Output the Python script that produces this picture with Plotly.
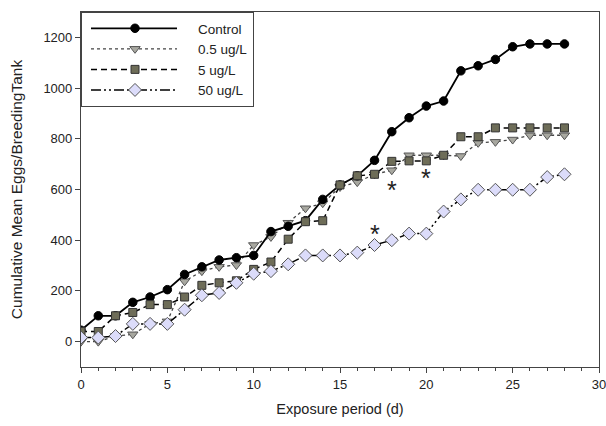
import plotly.graph_objects as go

days = list(range(0, 29))
control = [45, 102, 102, 155, 176, 205, 265, 295, 322, 331, 340, 434, 455, 477, 561, 618, 654, 715,
           828, 883, 929, 949, 1068, 1088, 1113, 1163, 1174, 1174, 1174]
ug05 = [0, 0, 22, 29, 70, 80, 238, 278, 295, 302, 381, 413, 469, 526, 546, 610, 629, 660,
        676, 735, 735, 735, 732, 784, 788, 797, 814, 814, 814]
ug5 = [40, 40, 102, 115, 146, 146, 176, 222, 232, 240, 285, 314, 404, 473, 477, 618, 654, 660,
       711, 713, 713, 735, 808, 808, 843, 843, 843, 843, 843]
ug50 = [16, 16, 22, 70, 70, 70, 126, 183, 192, 232, 268, 278, 305, 340, 340, 340, 351, 381,
        400, 426, 426, 513, 561, 599, 599, 599, 599, 649, 660]

star_x = [17, 18, 20]
star_y = [425, 600, 647]

FONT = "Liberation Sans, Arial, sans-serif"

fig = go.Figure()

fig.add_trace(go.Scatter(
    x=days, y=ug05, name="0.5 ug/L", mode="lines+markers", legendrank=2,
    line=dict(color="#444444", width=1.3, dash="dot"),
    marker=dict(symbol="triangle-down", size=9, color="#a8a8a0", line=dict(color="#555555", width=1))))
fig.add_trace(go.Scatter(
    x=days, y=control, name="Control", mode="lines+markers", legendrank=1,
    line=dict(color="black", width=1.8),
    marker=dict(symbol="circle", size=8.5, color="black", line=dict(color="black", width=1))))
fig.add_trace(go.Scatter(
    x=days, y=ug5, name="5 ug/L", mode="lines+markers", legendrank=3,
    line=dict(color="black", width=1.5, dash="6px,4px"),
    marker=dict(symbol="square", size=8, color="#6e6d58", line=dict(color="#333333", width=1))))
fig.add_trace(go.Scatter(
    x=days, y=ug50, name="50 ug/L", mode="lines+markers", legendrank=4,
    line=dict(color="black", width=1.5, dash="10px,3px,2px,3px,2px,3px"),
    marker=dict(symbol="diamond", size=10, color="#dcdcfa", line=dict(color="#555555", width=1))))

for sx, sy in zip(star_x, star_y):
    fig.add_annotation(x=sx, y=sy, text="*", showarrow=False,
                       font=dict(size=25, color="#222222", family=FONT))

fig.update_layout(
    width=606, height=426,
    margin=dict(l=81, r=7, t=12, b=59, autoexpand=False),
    paper_bgcolor="white", plot_bgcolor="white",
    font=dict(family=FONT, color="#222222", size=13),
    showlegend=True,
    legend=dict(x=0, y=1, xanchor="left", yanchor="top", bgcolor="white",
                bordercolor="#444444", borderwidth=1, font=dict(size=13.5),
                tracegroupgap=0, itemwidth=106),
)
fig.update_xaxes(range=[0, 30], tickmode="linear", tick0=0, dtick=5, ticks="outside", ticklen=5,
                 tickcolor="#444444", showline=True, linecolor="#444444", linewidth=1.2, mirror=True,
                 showgrid=False, zeroline=False, ticklabeloverflow="allow", automargin=False,
                 minor=dict(tickmode="linear", dtick=1, ticks="outside", ticklen=3, tickcolor="#444444"),
                 title=dict(text="Exposure period (d)", font=dict(size=14.5), standoff=13))
fig.update_yaxes(range=[-100, 1300], tickmode="array", tickvals=[0, 200, 400, 600, 800, 1000, 1200],
                 ticks="outside", ticklen=5, tickcolor="#444444", showline=True, linecolor="#444444",
                 linewidth=1.2, mirror=True, showgrid=False, zeroline=False, automargin=False,
                 title=dict(text="Cumulative Mean Eggs/BreedingTank", font=dict(size=15.5), standoff=16))

post = """
var gd = document.getElementById('{plot_id}');
function fixLegend() {
  gd.querySelectorAll('.legend .traces').forEach(function (t) {
    t.querySelectorAll('g.legendlines path').forEach(function (p) { p.setAttribute('d', 'M9,0h86'); });
    t.querySelectorAll('g.legendpoints path.scatterpts').forEach(function (p) {
      p.setAttribute('transform', 'translate(53,0)');
    });
  });
}
fixLegend();
gd.on('plotly_afterplot', fixLegend);
"""

fig.write_html("out.html", post_script=post)
